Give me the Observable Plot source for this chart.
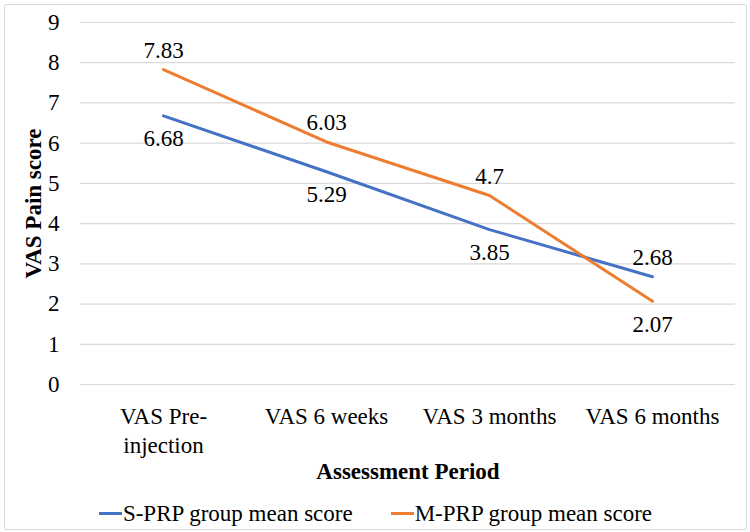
<!DOCTYPE html>
<html>
<head>
<meta charset="utf-8">
<script src="https://cdn.jsdelivr.net/npm/d3@7"></script>
<script src="https://cdn.jsdelivr.net/npm/@observablehq/plot@0.6"></script>
<style>
  html, body { margin: 0; padding: 0; background: #fff; }
  #frame {
    position: absolute; left: 4px; top: 4px; width: 741px; height: 524px;
    border: 1px solid #d9d9d9; border-radius: 2px; background: #fff; overflow: hidden;
  }
  #legend {
    display: flex; justify-content: center; gap: 38px; margin-top: 7px;
    font-family: "Liberation Serif", "Times New Roman", Times, Tinos, "DejaVu Serif", "Noto Serif", serif;
    font-size: 23px; line-height: 23px; color: #000;
  }
  #legend .item { display: flex; align-items: center; }
  #legend .sw { display: inline-block; width: 23px; height: 3px; margin-right: 1px; }
</style>
</head>
<body>
<div id="frame"><div id="chart"></div><div id="legend"></div></div>
<script>
const categories = ["VAS Pre-injection", "VAS 6 weeks", "VAS 3 months", "VAS 6 months"];
const tickLabels = ["VAS Pre-\ninjection", "VAS 6 weeks", "VAS 3 months", "VAS 6 months"];
const sPRP = [6.68, 5.29, 3.85, 2.68];
const mPRP = [7.83, 6.03, 4.7, 2.07];
const seriesNames = ["S-PRP group mean score", "M-PRP group mean score"];
const seriesColors = ["#4472C4", "#ED7D31"];
const yTicks = [0, 1, 2, 3, 4, 5, 6, 7, 8, 9];
const yTitle = "VAS Pain score";
const xTitle = "Assessment Period";

const seriesValues = [sPRP, mPRP];
const rows = [];
seriesNames.forEach((name, si) => {
  categories.forEach((c, ci) => {
    const other = seriesValues[1 - si][ci];
    const v = seriesValues[si][ci];
    rows.push({series: name, cat: c, value: v, above: v >= other});
  });
});
const aboveRows = rows.filter(d => d.above);
const belowRows = rows.filter(d => !d.above);

const font = '"Liberation Serif", "Times New Roman", Times, Tinos, "DejaVu Serif", "Noto Serif", serif';

const chart = Plot.plot({
  width: 740,
  height: 490,
  marginLeft: 75,
  marginRight: 10,
  marginTop: 17,
  marginBottom: 111,
  style: {fontFamily: font, fontSize: "23px", color: "#000", background: "transparent", overflow: "visible"},
  x: {type: "point", domain: categories, padding: 0.5},
  y: {domain: [0, 9]},
  color: {domain: seriesNames, range: seriesColors},
  marks: [
    Plot.gridY(yTicks, {stroke: "#d9d9d9", strokeOpacity: 1, strokeWidth: 1.2}),
    Plot.axisY(yTicks, {tickSize: 0, tickPadding: 21, label: null, fontSize: 23}),
    Plot.axisX({tickSize: 0, tickPadding: 19, label: null, fontSize: 23, lineHeight: 1.25,
      tickFormat: d => tickLabels[categories.indexOf(d)]}),
    Plot.line(rows, {x: "cat", y: "value", z: "series", stroke: "series", strokeWidth: 3, strokeLinecap: "round", strokeLinejoin: "round"}),
    Plot.text(aboveRows, {x: "cat", y: "value", text: d => String(d.value), dy: -19, fontSize: 23, fill: "#000"}),
    Plot.text(belowRows, {x: "cat", y: "value", text: d => String(d.value), dy: 23, fontSize: 23, fill: "#000"}),
    Plot.text([yTitle], {frameAnchor: "left", dx: -47, rotate: -90, textAnchor: "middle", fontWeight: "bold", fontSize: 23, fill: "#000"}),
    Plot.text([xTitle], {frameAnchor: "bottom", dy: 94, textAnchor: "middle", fontWeight: "bold", fontSize: 23, fill: "#000"})
  ]
});
chart.querySelectorAll("text").forEach(t => t.style.fontFamily = font);
document.getElementById("chart").appendChild(chart);

const legend = document.getElementById("legend");
seriesNames.forEach((name, i) => {
  const item = document.createElement("div");
  item.className = "item";
  const sw = document.createElement("span");
  sw.className = "sw";
  sw.style.background = seriesColors[i];
  const lab = document.createElement("span");
  lab.textContent = name;
  item.appendChild(sw);
  item.appendChild(lab);
  legend.appendChild(item);
});
</script>
</body>
</html>
